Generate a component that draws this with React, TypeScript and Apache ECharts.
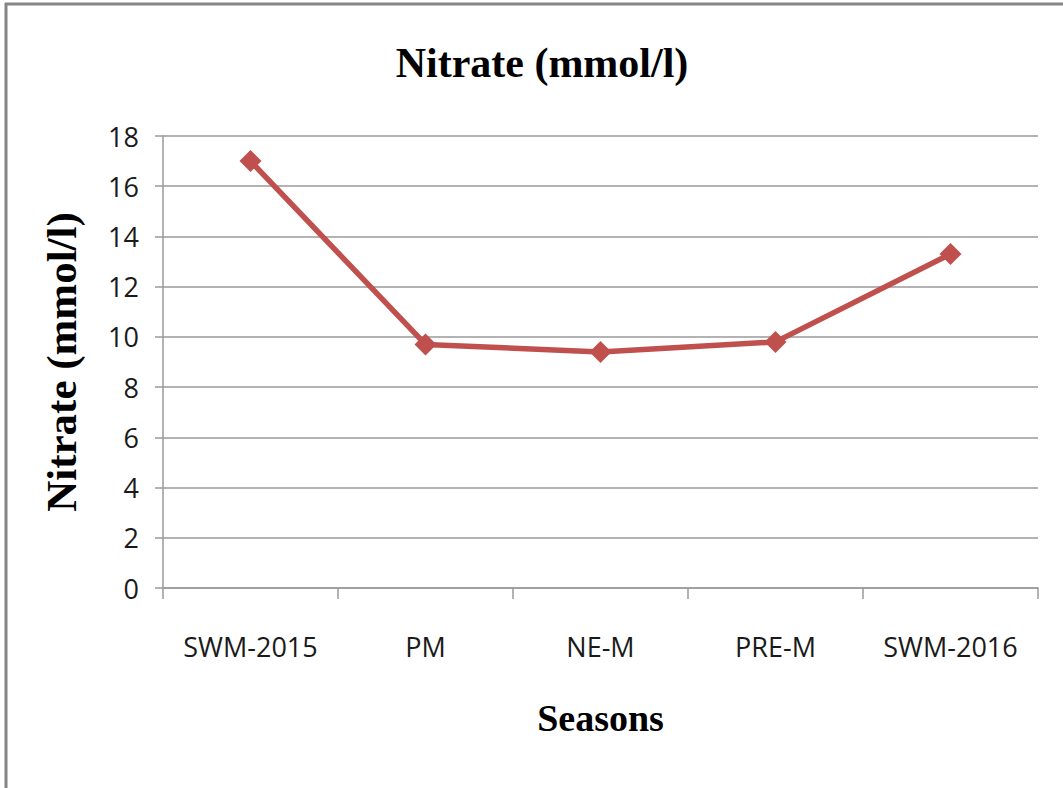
import React, { useEffect, useRef } from "react";
import * as echarts from "echarts";

const categories = ["SWM-2015", "PM", "NE-M", "PRE-M", "SWM-2016"];
const nitrateValues = [17.0, 9.7, 9.4, 9.8, 13.3];
const chartTitle = "Nitrate (mmol/l)";
const yAxisTitle = "Nitrate (mmol/l)";
const xAxisTitle = "Seasons";

export default function App() {
  const ref = useRef<HTMLDivElement>(null);
  useEffect(() => {
    if (!ref.current) return;
    const chart = echarts.init(ref.current, null, { renderer: "svg" });
    const serif = "'Liberation Serif', 'Times New Roman', serif";
    const sans = "'Open Sans', 'Noto Sans', sans-serif";
    chart.setOption({
      animation: false,
      backgroundColor: "#ffffff",
      title: {
        text: chartTitle,
        left: 537,
        textAlign: "center",
        top: 37,
        textStyle: { fontFamily: serif, fontWeight: "bold", fontSize: 42, color: "#000" },
      },
      graphic: [
        { type: "line", shape: { x1: 5, y1: 4, x2: 1063, y2: 4 }, style: { stroke: "#868686", lineWidth: 3 } },
        { type: "line", shape: { x1: 6, y1: 3, x2: 6, y2: 788 }, style: { stroke: "#868686", lineWidth: 3 } },
      ],
      grid: { left: 163, right: 25, top: 136, bottom: 200, containLabel: false },
      xAxis: {
        type: "category",
        data: categories,
        boundaryGap: true,
        name: xAxisTitle,
        nameLocation: "middle",
        nameGap: 111,
        nameTextStyle: { fontFamily: serif, fontWeight: "bold", fontSize: 38, color: "#000" },
        axisLine: { show: true, lineStyle: { color: "#9a9a9a", width: 1.5 } },
        axisTick: { show: true, length: 11, alignWithLabel: false, lineStyle: { color: "#9a9a9a", width: 1.5 } },
        axisLabel: { margin: 45, fontFamily: sans, fontSize: 27, color: "#1a1a1a" },
        splitLine: { show: false },
      },
      yAxis: {
        type: "value",
        min: 0,
        max: 18,
        interval: 2,
        name: yAxisTitle,
        nameLocation: "middle",
        nameRotate: 90,
        nameGap: 80,
        nameTextStyle: { fontFamily: serif, fontWeight: "bold", fontSize: 43, color: "#000" },
        axisLine: { show: true, lineStyle: { color: "#9a9a9a", width: 1.5 } },
        axisTick: { show: true, length: 8, lineStyle: { color: "#9a9a9a", width: 1.5 } },
        axisLabel: { margin: 24, fontFamily: sans, fontSize: 27, color: "#1a1a1a" },
        splitLine: { show: true, lineStyle: { color: "#9a9a9a", width: 1.5 } },
      },
      series: [
        {
          type: "line",
          data: nitrateValues,
          symbol: "diamond",
          symbolSize: 22,
          lineStyle: { color: "#C0504D", width: 5.5 },
          itemStyle: { color: "#C0504D" },
        },
      ],
    });
    return () => chart.dispose();
  }, []);
  return (
    <div
      ref={ref}
      style={{ position: "absolute", left: 0, top: 0, width: 1063, height: 788 }}
    />
  );
}
